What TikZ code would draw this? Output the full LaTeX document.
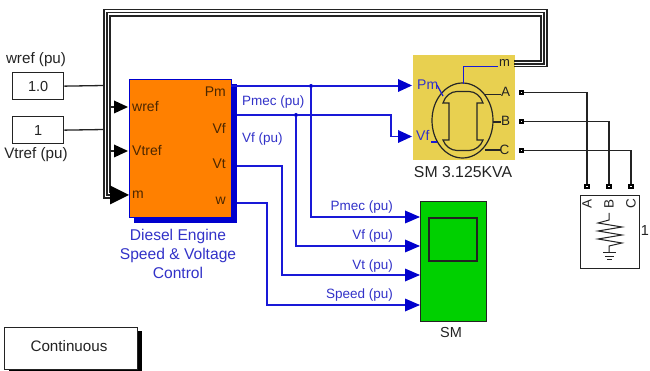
\documentclass[tikz,border=0pt]{standalone}
\usepackage{fontspec}
\setmainfont{Liberation Sans}
\definecolor{wire}{RGB}{25,25,215}
\definecolor{lbl}{RGB}{50,50,200}
\definecolor{shad}{RGB}{0,0,205}
\definecolor{gold}{RGB}{232,208,80}
\definecolor{orng}{RGB}{255,128,0}
\definecolor{grn}{RGB}{0,208,0}
\definecolor{ink}{RGB}{35,35,35}
\tikzset{
 blk/.style={draw=ink,line width=1.3pt,fill=white,inner sep=0pt,anchor=north west},
 wireb/.style={draw=wire,line width=1.3pt},
 wirek/.style={draw=ink,line width=1.3pt},
 txt/.style={inner sep=0pt,font=\fontsize{14.5}{16}\selectfont,text=ink},
 blab/.style={inner sep=0pt,font=\fontsize{13.5}{14}\selectfont,text=lbl},
 prt/.style={inner sep=0pt,font=\fontsize{14}{16}\selectfont,text=black!70!orng},
 tipk/.style={fill=black,draw=none},
 tipb/.style={fill=shad,draw=none},
 dotb/.style={circle,fill=shad,minimum size=4pt,inner sep=0pt},
 sq/.style={draw=black,line width=1.7pt,fill=white,minimum size=3.5pt,inner sep=0pt},
 bus/.style={draw=ink,line width=1.2pt,line join=miter}
}
\begin{document}
\begin{tikzpicture}[x=1pt,y=-1pt]
\useasboundingbox (0,0) rectangle (650,371);
% constants
\node[blk,minimum width=51pt,minimum height=27pt] (c1) at (12,72) {};
\node[txt] at (c1.center) {1.0};
\node[blk,minimum width=51pt,minimum height=27pt] (c2) at (12,116) {};
\node[txt] at (c2.center) {1};
\node[txt,font=\fontsize{15.2}{16}\selectfont] at (36,60) {wref (pu)};
\node[txt,font=\fontsize{15.2}{16}\selectfont] at (36,155) {Vtref (pu)};
\coordinate (j1) at (104,85.5);
\coordinate (j2) at (104,129.5);
\draw[wirek] (c1.east) -- (j1);
\draw[wirek] (c2.east) -- (j2);
% orange subsystem
\fill[shad] (134,84) rectangle (237,223);
\node[blk,draw=shad,fill=orng,minimum width=102pt,minimum height=138pt] (eng) at (128.5,79) {};
\node[prt,anchor=east] at (226,92) {Pm};
\node[prt,anchor=east] at (226,128) {Vf};
\node[prt,anchor=east] at (226,164) {Vt};
\node[prt,anchor=east] at (226,201) {w};
\node[prt,anchor=west] at (132,107) {wref};
\node[prt,anchor=west] at (132,151) {Vtref};
\node[prt,anchor=west] at (132,195) {m};
\node[blab,align=center,font=\fontsize{15.6}{19}\selectfont] at (178,254) {Diesel Engine\\Speed \& Voltage\\Control};
% machine
\node[blk,draw=none,fill=gold,minimum width=102pt,minimum height=105pt] (sm) at (412,54) {};
\node[txt,font=\fontsize{15.8}{16}\selectfont] at (463,172) {SM 3.125KVA};
% bus
\draw[bus] (514,66.5) -- (547,66.5) -- (547,9.5) -- (104,9.5) -- (104,198) -- (112,198);
\draw[bus] (514,64) -- (544,64) -- (544,12.7) -- (107,12.7) -- (107,195) -- (112,195);
\draw[bus] (514,61) -- (541,61) -- (541,16) -- (110,16) -- (110,192) -- (112,192);
\draw[tipk] (129,195) -- (110,185.5) -- (110,204.5) -- cycle;
\draw[wirek] (110,107) -- (116,107);
\draw[tipk] (128,107) -- (114,100.5) -- (114,113.5) -- cycle;
\draw[wirek] (110,151) -- (116,151);
\draw[tipk] (128,151) -- (114,144.5) -- (114,157.5) -- cycle;
% machine icon
\begin{scope}[line width=1.2pt,draw=black!85]
\draw (462.5,120.5) ellipse [x radius=30.5,y radius=37.5];
\draw (443,103) .. controls (445,96) and (451,91.5) .. (457,91.5) -- (469,91.5) .. controls (475,91.5) and (481,96) .. (483,103)
 -- (477,103) -- (477,140) -- (483,140) .. controls (481,146) and (475,150.5) .. (469,150.5) -- (457,150.5) .. controls (451,150.5) and (445,146) .. (443,140)
 -- (449,140) -- (449,103) -- cycle;
\draw (485,94.5) -- (501,94.5);
\draw (493,122) -- (501,122);
\draw (485,150) -- (501,150);
\end{scope}
\draw[wire,line width=1.2pt] (498,66.5) -- (463.5,66.5) -- (463.5,84);
\draw[wire,line width=1.2pt] (437,85) -- (443,96);
\draw[wire,line width=1.2pt] (431,142) -- (437,142);
\node[blab,anchor=west,font=\fontsize{14}{14}\selectfont] at (417,84.5) {Pm};
\node[blab,anchor=west,font=\fontsize{14}{14}\selectfont] at (416,135.5) {Vf};
\node[txt,font=\fontsize{13}{14}\selectfont] at (504.5,63) {m};
\node[txt,font=\fontsize{13.5}{14}\selectfont] at (505.5,92) {A};
\node[txt,font=\fontsize{13.5}{14}\selectfont] at (505.5,121) {B};
\node[txt,font=\fontsize{13.5}{14}\selectfont] at (504.5,150) {C};
% scope
\node[blk,fill=grn,minimum width=66pt,minimum height=120pt] (sc) at (420,201) {};
\draw[ink,line width=1.3pt,fill=grn] (429,218) rectangle (477,261);
\node[txt] at (451,333) {SM};
% signals
\coordinate (ePm) at (231,86);
\coordinate (eVf) at (237,115);
\coordinate (eVt) at (237,166);
\coordinate (ew) at (237,203);
\node[dotb] (d1) at (311,86) {};
\node[dotb] (d2) at (296,115) {};
\draw[wireb] (ePm) -- (d1) -- (400,86);
\draw[tipb] (412,85.5) -- (398,79) -- (398,92) -- cycle;
\draw[wireb] (eVf) -- (d2) -- (391,115) -- (391,136.5) -- (400,136.5);
\draw[tipb] (412,136.5) -- (398,130) -- (398,143) -- cycle;
\draw[wireb] (d1) -- (311,217) -- (408,217);
\draw[wireb] (d2) -- (296,246) -- (408,246);
\draw[wireb] (eVt) -- (282,166) -- (282,275) -- (408,275);
\draw[wireb] (ew) -- (267,203) -- (267,305) -- (408,305);
\foreach \yy in {217,246,275,305}
  \draw[tipb] (420,\yy) -- (405,\yy-6.5) -- (405,\yy+6.5) -- cycle;
\node[blab,anchor=west] at (242,102) {Pmec (pu)};
\node[blab,anchor=west] at (242,139) {Vf (pu)};
\node[blab,anchor=east] at (393,207) {Pmec (pu)};
\node[blab,anchor=east] at (393,236) {Vf (pu)};
\node[blab,anchor=east] at (393,266) {Vt (pu)};
\node[blab,anchor=east] at (393,295) {Speed (pu)};
% load
\node[blk,minimum width=59pt,minimum height=73pt] (ld) at (580,195) {};
\node[sq] (a1) at (521.5,92.5) {};
\node[sq] (b1) at (521.5,121.5) {};
\node[sq] (c1o) at (521.5,150.5) {};
\node[sq] (a2) at (587,186.5) {};
\node[sq] (b2) at (609,186.5) {};
\node[sq] (c2o) at (631,186.5) {};
\draw[wirek] (a1) -| (a2);
\draw[wirek] (b1) -| (b2);
\draw[wirek] (c1o) -| (c2o);
\node[txt,rotate=90,font=\fontsize{13.5}{14}\selectfont] at (587,203.5) {A};
\node[txt,rotate=90,font=\fontsize{13.5}{14}\selectfont] at (609,203.5) {B};
\node[txt,rotate=90,font=\fontsize{13.5}{14}\selectfont] at (631,203.5) {C};
\node[txt] at (645,231) {1};
\draw[ink,line width=1pt] (609,213) -- (609,220) -- (598,223) -- (622,227) -- (598,231) -- (622,235) -- (598,239) -- (622,243) -- (609,246) -- (609,253);
\draw[ink,line width=1pt] (603,253) -- (616,253) (605,256.5) -- (614,256.5) (607,260) -- (612,260);
% continuous
\fill[black] (9,331) rectangle (142,371);
\node[blk,minimum width=133pt,minimum height=42pt] (cont) at (4,326.5) {};
\node[txt,font=\fontsize{15.2}{16}\selectfont] at (69,346) {Continuous};
\end{tikzpicture}
\end{document}
